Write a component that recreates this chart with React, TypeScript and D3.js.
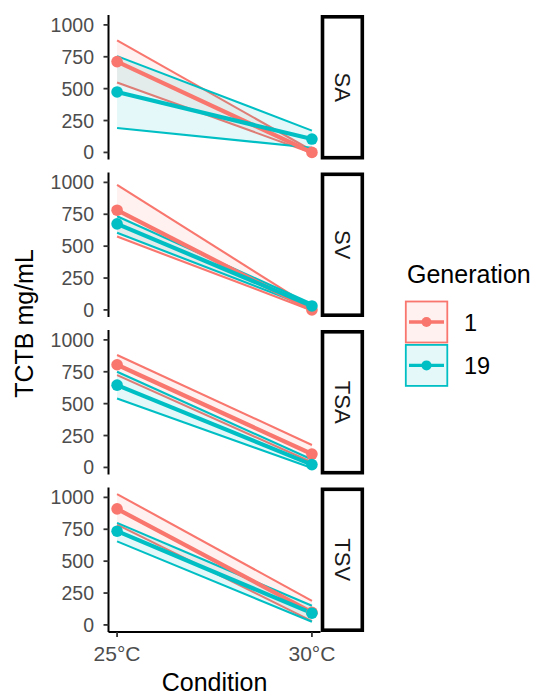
import React from "react";
import * as d3 from "d3";

const panels = ["SA", "SV", "TSA", "TSV"];
const conditions = ["25°C", "30°C"];
const generations = ["1", "19"];
const colors = ["#F8766D", "#00BFC4"];
const yTicks = [0, 250, 500, 750, 1000];

// values per panel: [25°C, 30°C]
const gen1Mean = [[712, 0], [782, 0], [805, 105], [910, 98]];
const gen1Upper = [[878, 15], [980, 18], [882, 176], [1026, 188]];
const gen1Lower = [[548, -4], [575, -4], [724, 40], [786, 30]];
const gen19Mean = [[474, 105], [675, 31], [645, 22], [735, 92]];
const gen19Upper = [[755, 171], [735, 48], [750, 62], [800, 150]];
const gen19Lower = [[192, 36], [605, 15], [540, -4], [655, 25]];

const means = [gen1Mean, gen19Mean];
const uppers = [gen1Upper, gen19Upper];
const lowers = [gen1Lower, gen19Lower];

const FONT = "'Liberation Sans', Arial, Helvetica, sans-serif";

export default function App() {
  const W = 540, H = 695;
  const left = 108.5, right = 320.5;
  const panelTop0 = 15, panelH = 144.5, step = 157.5;

  const allVals = [...gen1Upper, ...gen1Lower, ...gen19Upper, ...gen19Lower, ...gen1Mean, ...gen19Mean].flat();
  const [mn, mx] = d3.extent(allVals) as [number, number];
  const pad = (mx - mn) * 0.05;

  const x = d3.scalePoint<string>().domain(conditions).range([left, right]).padding(0.044);

  return (
    <svg width={W} height={H} style={{ position: "absolute", left: 0, top: 0, background: "#fff" }} fontFamily={FONT}>
      <rect width={W} height={H} fill="#fff" />
      {panels.map((p, pi) => {
        const top = panelTop0 + pi * step;
        const bottom = top + panelH;
        const y = d3.scaleLinear().domain([mn - pad, mx + pad]).range([bottom, top]);
        const line = d3.line<[string, number]>().x(d => x(d[0])!).y(d => y(d[1]));
        return (
          <g key={p}>
            {generations.map((g, gi) => {
              const area = d3.area<number>().x((_, i) => x(conditions[i])!)
                .y0((_, i) => y(lowers[gi][pi][i]))
                .y1((_, i) => y(uppers[gi][pi][i]));
              const ar = area([0, 1])!;
              const up = line(conditions.map((c, i) => [c, uppers[gi][pi][i]]))!;
              const lo = line(conditions.map((c, i) => [c, lowers[gi][pi][i]]))!;
              return (
                <g key={g}>
                  <path d={ar} fill={colors[gi]} fillOpacity={0.1} stroke="none" />
                  <path d={up} fill="none" stroke={colors[gi]} strokeWidth={2.1} />
                  <path d={lo} fill="none" stroke={colors[gi]} strokeWidth={2.1} />
                </g>
              );
            })}
            {generations.map((g, gi) => (
              <path key={"m" + g} d={line(conditions.map((c, i) => [c, means[gi][pi][i]]))!}
                fill="none" stroke={colors[gi]} strokeWidth={4.2} />
            ))}
            {generations.map((g, gi) => (
              <g key={"p" + g}>
                {conditions.map((c, i) => (
                  <circle key={c} cx={x(c)} cy={y(means[gi][pi][i])} r={5.8} fill={colors[gi]} />
                ))}
              </g>
            ))}
            {/* y axis */}
            <line x1={left} x2={left} y1={top} y2={bottom} stroke="#000" strokeWidth={2} />
            {yTicks.map(t => (
              <g key={t}>
                <line x1={left - 5} x2={left} y1={y(t)} y2={y(t)} stroke="#333" strokeWidth={1.8} />
                <text x={left - 14.5} y={y(t)} dy="0.36em" textAnchor="end" fontSize={19.5} fill="#4D4D4D">{t}</text>
              </g>
            ))}
            {/* strip */}
            <rect x={322.5} y={top + 1.8} width={39.8} height={panelH - 3.6} fill="#fff" stroke="#000" strokeWidth={3.6} />
            <text transform={`translate(${342.5},${(top + bottom) / 2}) rotate(90)`} textAnchor="middle" dy="0.36em"
              fontSize={22} fill="#1A1A1A">{p}</text>
          </g>
        );
      })}
      {/* x axis */}
      {(() => {
        const yb = panelTop0 + 3 * step + panelH;
        return (
          <g>
            <line x1={left} x2={right} y1={yb} y2={yb} stroke="#000" strokeWidth={2} />
            {conditions.map(c => (
              <g key={c}>
                <line x1={x(c)} x2={x(c)} y1={yb} y2={yb + 5} stroke="#333" strokeWidth={1.8} />
                <text x={x(c)} y={660.5} textAnchor="middle" fontSize={21} fill="#4D4D4D">{c}</text>
              </g>
            ))}
            <text x={(left + right) / 2} y={691} textAnchor="middle" fontSize={25} fill="#000">Condition</text>
          </g>
        );
      })()}
      <text transform={`translate(33,${panelTop0 + (3 * step + panelH) / 2}) rotate(-90)`} textAnchor="middle"
        fontSize={25} fill="#000">TCTB mg/mL</text>
      {/* legend */}
      <text x={407} y={283.3} fontSize={25} fill="#000">Generation</text>
      {generations.map((g, gi) => {
        const by = 301.5 + gi * 43.4;
        return (
          <g key={g}>
            <rect x={405.8} y={by} width={41.5} height={41} fill={colors[gi]} fillOpacity={0.1} stroke={colors[gi]} strokeWidth={1.8} />
            <line x1={409} x2={444} y1={by + 20.5} y2={by + 20.5} stroke={colors[gi]} strokeWidth={3.4} />
            <circle cx={426.5} cy={by + 20.5} r={5} fill={colors[gi]} />
            <text x={464} y={by + 29} fontSize={23.5} fill="#000">{g}</text>
          </g>
        );
      })}
    </svg>
  );
}
